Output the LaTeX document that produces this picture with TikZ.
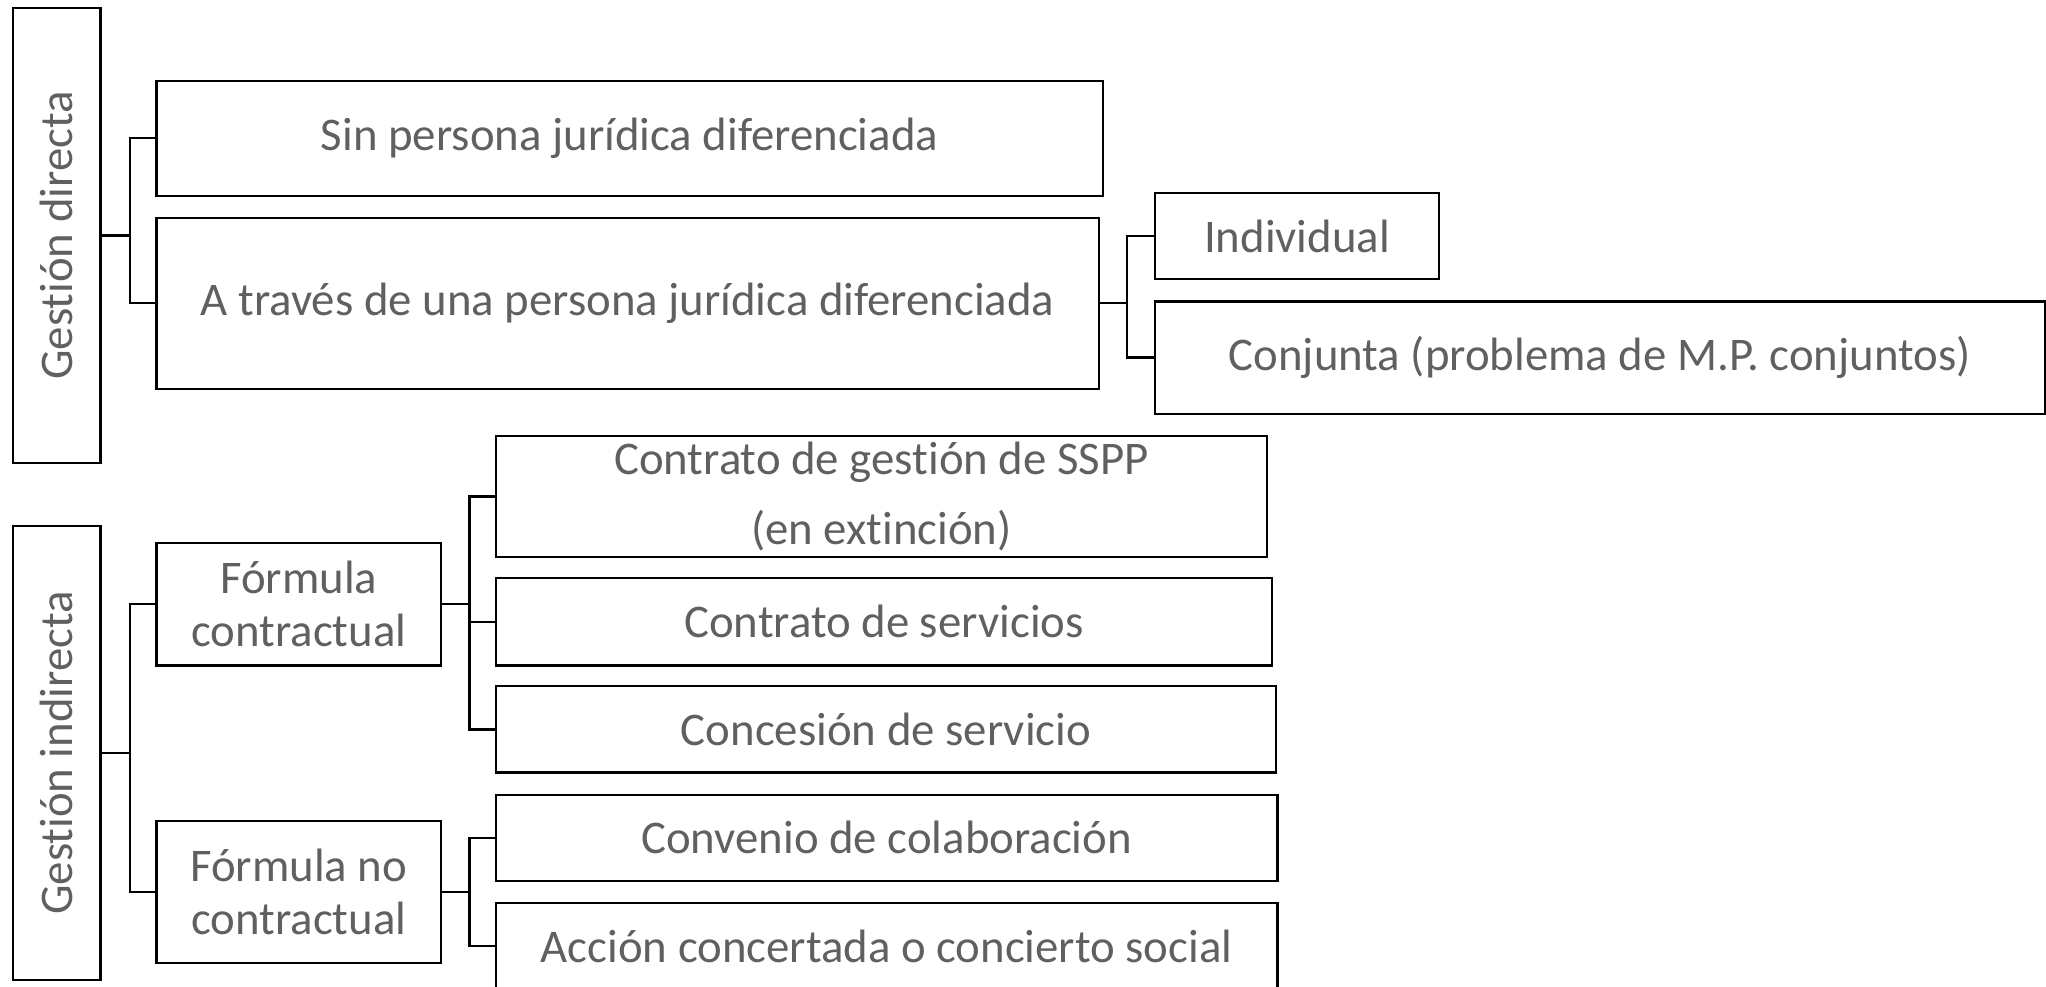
\documentclass[tikz,border=0pt]{standalone}
\usepackage{fontspec}
\setmainfont{Carlito}[Ligatures=NoCommon]
\definecolor{txtgray}{RGB}{96,96,96}

\begin{document}
\begin{tikzpicture}
    [x=1bp, y=-1bp,
    box/.style={draw, line width=1.7bp, inner sep=0pt, text=txtgray, align=center,
        font=\fontsize{36}{41}\selectfont},
    side/.style={box, rotate=90},
    link/.style={line width=1.7bp, black}]

    \useasboundingbox (0,0) rectangle (1568,756);

    % Gestion directa
    \node[side, minimum width=349bp, minimum height=67bp] (gd) at (43.5,180.5) {Gestión directa};
    \node[box, minimum width=725bp, minimum height=88bp] (sin) at (482.5,106) {Sin persona jurídica diferenciada};
    \node[box, minimum width=722bp, minimum height=131bp] (pj) at (481,232.5) {A través de una persona jurídica diferenciada};
    \node[box, minimum width=218bp, minimum height=66bp] (ind) at (994,181) {Individual};
    \node[box, minimum width=682bp, minimum height=86bp] (conj) at (1226,274) {Conjunta (problema de M.P. conjuntos)};

    % Gestion indirecta
    \node[side, minimum width=348bp, minimum height=67bp] (gi) at (43.5,577) {Gestión indirecta};
    \node[box, minimum width=218bp, minimum height=94bp] (fc) at (229,463) {Fórmula\\contractual};
    \node[box, minimum width=218bp, minimum height=109bp] (fnc) at (229,683.5) {Fórmula no\\contractual};
    \node[box, minimum width=591bp, minimum height=93bp] (cg) at (675.5,380.5) {Contrato de gestión de SSPP\\[13bp](en extinción)};
    \node[box, minimum width=595bp, minimum height=67bp] (cs) at (677.5,476.5) {Contrato de servicios};
    \node[box, minimum width=598bp, minimum height=66bp] (con) at (679,559) {Concesión de servicio};
    \node[box, minimum width=599bp, minimum height=66bp] (conv) at (679.5,642) {Convenio de colaboración};
    \node[box, minimum width=599bp, minimum height=66bp] (acc) at (679.5,725) {Acción concertada o concierto social};

    % connectors
    \draw[link] (gd.south) -- ++(22,0) |- (sin.west);
    \draw[link] (gd.south) -- ++(22,0) |- (pj.west);
    \draw[link] (pj.east) -- ++(21,0) |- (ind.west);
    \draw[link] (pj.east) -- ++(21,0) |- (conj.west);
    \draw[link] (gi.south) -- ++(22,0) |- (fc.west);
    \draw[link] (gi.south) -- ++(22,0) |- (fnc.west);
    \draw[link] (fc.east) -- ++(21,0) |- (cg.west);
    \draw[link] (fc.east) -- ++(21,0) |- (cs.west);
    \draw[link] (fc.east) -- ++(21,0) |- (con.west);
    \draw[link] (fnc.east) -- ++(21,0) |- (conv.west);
    \draw[link] (fnc.east) -- ++(21,0) |- (acc.west);

\end{tikzpicture}
\end{document}
